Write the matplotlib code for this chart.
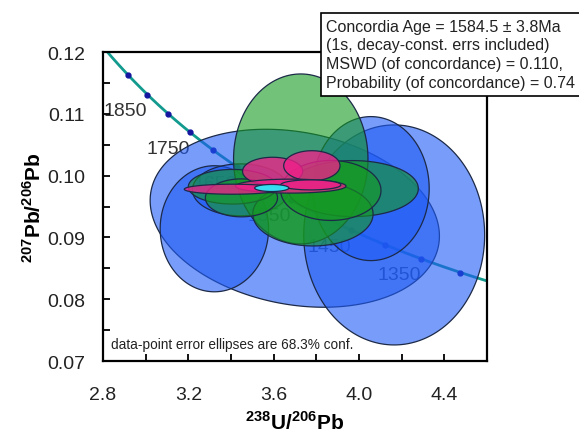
import numpy as np
import matplotlib
matplotlib.use("Agg")
import matplotlib.pyplot as plt
from matplotlib.patches import Polygon
from matplotlib.ticker import MultipleLocator, FormatStrFormatter

plt.rcParams["font.family"] = ["Liberation Sans", "DejaVu Sans"]
plt.rcParams["mathtext.fontset"] = "custom"
plt.rcParams["mathtext.rm"] = "Liberation Sans"
plt.rcParams["mathtext.bf"] = "Liberation Sans:bold"

# data-point ellipses: 238U/206Pb, 207Pb/206Pb, 1s errors, error correlation
u_pb = [3.699, 4.165, 4.056, 3.322, 3.445,
        3.727, 3.972, 3.784, 3.868, 3.407, 3.449,
        3.595, 3.779, 3.680, 3.407, 3.774,
        3.591]
u_pb_err = [0.678, 0.424, 0.273, 0.254, 0.226,
            0.315, 0.306, 0.282, 0.235, 0.207, 0.169,
            0.141, 0.132, 0.259, 0.226, 0.141,
            0.080]
pb_pb = [0.0931, 0.0904, 0.0979, 0.0914, 0.0977,
         0.1027, 0.0979, 0.0938, 0.0976, 0.0982, 0.0964,
         0.1007, 0.1016, 0.0983, 0.0978, 0.0985,
         0.0980]
pb_pb_err = [0.0144, 0.0178, 0.01165, 0.0102, 0.0042,
             0.01375, 0.00453, 0.00518, 0.00485, 0.0028, 0.00307,
             0.00227, 0.00243, 0.00113, 0.00081, 0.00081,
             0.00057]
err_corr = [-0.2, 0.0, 0.0, 0.0, 0.0,
            0.0, 0.0, 0.0, 0.0, 0.0, 0.0,
            0.0, 0.0, 0.0, 0.0, 0.0,
            0.0]
group = ["blue"] * 5 + ["green"] * 6 + ["pink"] * 5 + ["cyan"]

# concordia ages (Ma)
curve_ages = np.linspace(1200, 2000, 200)
marker_ages = list(range(1300, 1950, 50))
label_ages = [1350, 1450, 1550, 1650, 1750, 1850]

stats = ("Concordia Age = 1584.5 \u00b1 3.8Ma\n"
         "(1s, decay-const. errs included)\n"
         "MSWD (of concordance) = 0.110,\n"
         "Probability (of concordance) = 0.74")

fill = {"blue": ("#1e5af5", 0.6), "green": ("#159a20", 0.6),
        "pink": ("#f0208a", 0.78), "cyan": ("#30e8f8", 0.95)}

L238, L235, U_RATIO = 1.55125e-4, 9.8485e-4, 137.88  # per Ma


def tera_wasserburg(age):
    age = np.asarray(age, dtype=float)
    e8 = np.exp(L238 * age) - 1
    e5 = np.exp(L235 * age) - 1
    return 1 / e8, e5 / e8 / U_RATIO


fig = plt.figure(figsize=(5.79, 4.35), dpi=100)
ax = fig.add_axes([0.1779, 0.1678, 0.6632, 0.7103])

cx, cy = tera_wasserburg(curve_ages)
ax.plot(cx, cy, color="#139a8e", lw=2, zorder=1)
mx, my = tera_wasserburg(marker_ages)
ax.plot(mx, my, "o", color="#1515a0", ms=3.5, zorder=1)
lx, ly = tera_wasserburg(label_ages)
for a, x, y in zip(label_ages, lx, ly):
    ax.text(x, y - 0.0026, str(a), ha="right", va="center",
            fontsize=14, color="#333333", zorder=1)

t = np.linspace(0, 2 * np.pi, 240)
for i in range(len(u_pb)):
    r = err_corr[i]
    ex = u_pb[i] + u_pb_err[i] * np.cos(t)
    ey = pb_pb[i] + pb_pb_err[i] * (r * np.cos(t) + np.sqrt(1 - r * r) * np.sin(t))
    col, alpha = fill[group[i]]
    face = matplotlib.colors.to_rgba(col, alpha)
    ax.add_patch(Polygon(np.column_stack([ex, ey]), closed=True,
                         facecolor=face, edgecolor="#1c2a48", lw=0.9,
                         zorder=2 + i * 0.01))

ax.set_xlim(2.8, 4.6)
ax.set_ylim(0.07, 0.12)
ax.xaxis.set_major_locator(MultipleLocator(0.4))
ax.xaxis.set_minor_locator(MultipleLocator(0.2))
ax.yaxis.set_major_locator(MultipleLocator(0.01))
ax.yaxis.set_minor_locator(MultipleLocator(0.005))
ax.xaxis.set_major_formatter(FormatStrFormatter("%.1f"))
ax.yaxis.set_major_formatter(FormatStrFormatter("%.2f"))
ax.tick_params(which="both", direction="in", length=5, width=1.3,
               top=False, right=False, labelsize=14, labelcolor="#222222")
ax.tick_params(axis="x", which="major", pad=18)
ax.tick_params(axis="y", which="major", pad=13)
for s in ax.spines.values():
    s.set_linewidth(1.6)

ax.set_xlabel(r"$^{\mathbf{238}}\mathbf{U/}^{\mathbf{206}}\mathbf{Pb}$", fontsize=15)
ax.xaxis.set_label_coords(0.5, -0.16)
ax.set_ylabel(r"$^{\mathbf{207}}\mathbf{Pb/}^{\mathbf{206}}\mathbf{Pb}$", fontsize=15)
ax.yaxis.set_label_coords(-0.152, 0.5)

ax.text(0.021, 0.055, "data-point error ellipses are 68.3% conf.",
        transform=ax.transAxes, fontsize=9.8, color="#222222",
        va="center", ha="left", zorder=5)

fig.text(0.5635, 0.955, stats, ha="left", va="top", fontsize=11.5,
         color="#222222", linespacing=1.32,
         bbox=dict(boxstyle="square,pad=0.35", fc="white", ec="black", lw=1.2))

fig.savefig("out.png", dpi=100)
